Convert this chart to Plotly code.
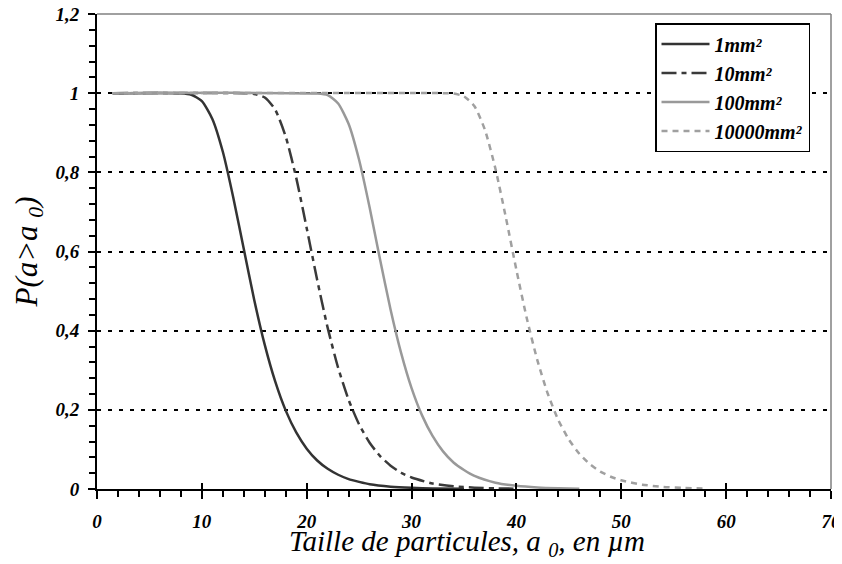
import plotly.graph_objects as go

# ---- data ----
x_1mm = [1.5, 8, 9, 10, 11, 12, 13, 14, 15, 16, 17, 18, 19, 20, 21, 22, 23, 24, 25, 26, 28, 30, 32, 35]
p_1mm = [1.0, 1.0, 0.996, 0.98, 0.935, 0.852, 0.736, 0.606, 0.477, 0.364, 0.271, 0.198, 0.143,
         0.102, 0.072, 0.051, 0.036, 0.025, 0.018, 0.012, 0.006, 0.003, 0.0014, 0.0005]

x_10mm = [1.5, 14, 15, 16, 17, 18, 19, 20, 21, 22, 23, 24, 25, 26, 27, 28, 29, 30, 32, 34, 36, 38, 40]
p_10mm = [1.0, 1.0, 0.998, 0.989, 0.958, 0.89, 0.786, 0.659, 0.528, 0.407, 0.306, 0.225, 0.163,
          0.117, 0.083, 0.059, 0.041, 0.029, 0.014, 0.007, 0.0034, 0.0017, 0.0008]

x_100mm = [1.5, 21, 22, 23, 24, 25, 26, 27, 28, 29, 30, 31, 32, 33, 34, 35, 36, 38, 40, 42, 44, 46]
p_100mm = [1.0, 0.999, 0.995, 0.974, 0.922, 0.831, 0.711, 0.579, 0.453, 0.344, 0.255, 0.186,
           0.134, 0.095, 0.067, 0.048, 0.033, 0.016, 0.008, 0.0039, 0.0019, 0.0009]

x_10000mm = [1.5, 33, 34, 35, 36, 37, 38, 39, 40, 41, 42, 43, 44, 45, 46, 47, 48, 49, 50, 52, 54, 56, 58]
p_10000mm = [1.0, 1.0, 0.999, 0.992, 0.967, 0.907, 0.809, 0.685, 0.553, 0.43, 0.325, 0.24, 0.174,
             0.125, 0.089, 0.063, 0.044, 0.031, 0.022, 0.011, 0.0052, 0.0025, 0.0012]

series_names = ["1mm²", "10mm²", "100mm²", "10000mm²"]
x_ticks = [0, 10, 20, 30, 40, 50, 60, 70]
y_ticks = [0, 0.2, 0.4, 0.6, 0.8, 1.0, 1.2]
x_title = "Taille de particules, a <sub>0</sub>, en µm"
y_title = "P(a>a <sub>0</sub>)"

FONT = "'Liberation Serif', 'Times New Roman', serif"
fig = go.Figure()

styles = [
    dict(color="#333333", width=2.5, dash="solid"),
    dict(color="#3a3a3a", width=2.5, dash="15px,5px,5px,5px"),
    dict(color="#999999", width=2.5, dash="solid"),
    dict(color="#a0a0a0", width=2.5, dash="6px,5px"),
]
data = [(x_1mm, p_1mm), (x_10mm, p_10mm), (x_100mm, p_100mm), (x_10000mm, p_10000mm)]
for i, ((xs, ys), name, st) in enumerate(zip(data, series_names, styles)):
    fig.add_trace(go.Scatter(x=xs, y=ys, mode="lines", name=name, line=st,
                             line_shape="spline", line_smoothing=0.6,
                             hoverinfo="skip"))

# invisible trace so overlay axes (for crossing major ticks) are drawn
fig.add_trace(go.Scatter(x=[None], y=[None], xaxis="x2", yaxis="y2", mode="lines",
                         showlegend=False, hoverinfo="skip"))

tickfont = dict(family=FONT, size=19, color="black", weight="bold", style="italic")

# page has an 8px body margin: figure is sized/margined to compensate
fig.update_layout(
    width=834, height=556,
    margin=dict(l=89, r=11, t=6, b=75, autoexpand=False),
    paper_bgcolor="white", plot_bgcolor="white",
    separators=", ",
    showlegend=True,
    legend=dict(
        x=0.9714, y=0.981, xanchor="right", yanchor="top",
        bgcolor="white", bordercolor="black", borderwidth=1.5,
        font=dict(family=FONT, size=20, color="black", weight="bold", style="italic"),
        traceorder="normal", itemwidth=48,
    ),
    xaxis=dict(
        range=[0, 70], tickvals=x_ticks, showgrid=False, zeroline=False,
        showline=True, linecolor="black", linewidth=2, automargin=False,
        ticks="outside", ticklen=8, tickwidth=2, tickcolor="black",
        minor=dict(dtick=2, ticks="outside", ticklen=6, tickwidth=1.5, tickcolor="black"),
        tickfont=tickfont, ticklabelstandoff=6, ticklabeloverflow="allow",
        fixedrange=True,
    ),
    yaxis=dict(
        range=[0, 1.2], tickvals=y_ticks, zeroline=False, automargin=False,
        showgrid=True, gridcolor="black", gridwidth=1.5, griddash="4px,7px",
        showline=True, linecolor="black", linewidth=2,
        ticks="outside", ticklen=7, tickwidth=2, tickcolor="black",
        minor=dict(dtick=0.04, ticks="outside", ticklen=6, tickwidth=1.5, tickcolor="black", showgrid=False),
        tickfont=tickfont, ticklabelstandoff=5, ticklabeloverflow="allow",
        title=dict(text=y_title,
                   font=dict(family=FONT, size=31, color="black", style="italic"), standoff=9),
        fixedrange=True,
    ),
    xaxis2=dict(overlaying="x", range=[0, 70], tickvals=x_ticks, ticks="inside", ticklen=6,
                tickwidth=2, tickcolor="black", showticklabels=False, showgrid=False,
                showline=False, zeroline=False, fixedrange=True, automargin=False),
    yaxis2=dict(overlaying="y", range=[0, 1.2], tickvals=y_ticks, ticks="inside", ticklen=4,
                tickwidth=2, tickcolor="black", showticklabels=False, showgrid=False,
                showline=False, zeroline=False, fixedrange=True, side="left", automargin=False),
    annotations=[
        dict(text=x_title, xref="paper", yref="paper", x=0.504, y=-0.113,
             xanchor="center", yanchor="middle", showarrow=False,
             font=dict(family=FONT, size=29, color="black", style="italic")),
    ],
    shapes=[
        dict(type="line", xref="paper", yref="paper", x0=0, x1=1, y0=1, y1=1,
             line=dict(color="#808080", width=1.5)),
        dict(type="line", xref="paper", yref="paper", x0=1, x1=1, y0=0, y1=1,
             line=dict(color="#808080", width=1.5)),
    ],
)

fig.write_html("out.html")
